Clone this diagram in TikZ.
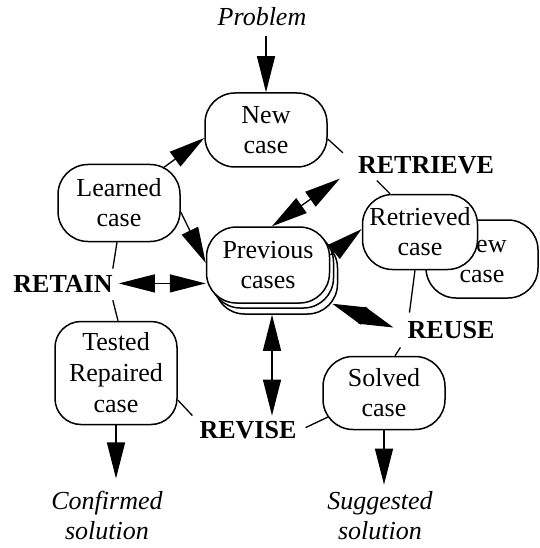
\documentclass[tikz,border=0pt]{standalone}
\usepackage{fontspec}
\setmainfont{Liberation Serif}
\usetikzlibrary{arrows.meta,calc}
\begin{document}
\begin{tikzpicture}[x=1pt,y=-1pt,
  every node/.style={font=\fontsize{26}{30}\selectfont},
  casebox/.style={draw, line width=1.5pt, rounded corners=30pt, fill=white,
    align=center, inner sep=1pt, minimum width=122pt, minimum height=75pt},
  phase/.style={font=\fontsize{26}{30}\selectfont\bfseries, inner sep=1pt, anchor=base},
  outcome/.style={font=\fontsize{26}{30}\selectfont\itshape, align=center, inner sep=2pt},
  link/.style={line width=1.3pt},
  bighead/.tip={Triangle[length=36pt,width=18pt]},
  shorthead/.tip={Triangle[length=34pt,width=18pt]},
  flow/.style={line width=1.3pt, -bighead},
  twoway/.style={line width=1.3pt, bighead-bighead},
  twowayshort/.style={line width=1.3pt, shorthead-shorthead},
]
\useasboundingbox (0,0) rectangle (539,548);

% cases
\node[outcome, anchor=base, inner sep=1pt] (problem) at (262,26) {Problem};
\node[casebox, minimum height=74pt] (newcase) at (266,130) {New\\case};
\node[casebox, minimum height=77pt] (learned) at (119,203) {Learned\\case};
\node[casebox, minimum width=123pt, minimum height=76pt] (prevback) at (276,276) {};
\node[casebox, minimum width=123pt, minimum height=76pt] (prevmid) at (272,270) {};
\node[casebox, minimum width=123pt, minimum height=76pt] (previous) at (268,265) {Previous\\cases};
\node[casebox, minimum width=112pt, minimum height=78pt] (newcopy) at (482,259) {New\\case};
\node[casebox, minimum width=115pt] (retrieved) at (420,232) {Retrieved\\case};
\node[casebox, minimum height=73pt] (solved) at (384,393) {Solved\\case};
\node[casebox, minimum height=103pt, rounded corners=26pt,
      font=\fontsize{26}{31}\selectfont] (tested) at (116,373) {Tested\\Repaired\\case};

% phases of the cycle
\node[phase] (retrieve) at (426,173) {RETRIEVE};
\node[phase] (retain) at (63,292) {RETAIN};
\node[phase] (reuse) at (451,338) {REUSE};
\node[phase] (revise) at (248,438) {REVISE};

% outputs
\node[outcome] (confirmed) at (107,515) {Confirmed\\solution};
\node[outcome] (suggested) at (380,516) {Suggested\\solution};

% arrows
\draw[flow, shorten <=9pt] (problem.south -| newcase.north) -- (newcase.north);
\draw[flow] ($(learned)+(44,-35)$) -- ([yshift=-8pt]newcase.west);
\draw[flow] ([yshift=-9pt]learned.east) -- ([yshift=2pt]previous.west);
\draw[twoway] ([xshift=5pt]retain.east) -- (retain.east -| previous.west);
\draw[twoway] ([xshift=4pt]previous.north) -- ([xshift=-17pt,yshift=-4pt]retrieve.south west);
\draw[flow] ([yshift=10pt]previous.east) -- ([yshift=3pt]retrieved.west);
\draw[twowayshort] ([xshift=2pt]previous.south east) -- ([xshift=-13pt,yshift=2pt]reuse.west);
\draw[twoway, shorten >=4pt] ([xshift=-4pt]prevback.south) -- ([xshift=-4pt]prevback.south |- revise.north);
\draw[flow, shorten >=10pt] (tested.south) -- (tested.south |- confirmed.north);
\draw[flow, shorten >=5pt] (solved.south) -- (solved.south |- suggested.north);

% plain links between cases and phases
\draw[link] ([yshift=-9pt]newcase.east) -- ([xshift=-14pt,yshift=2pt]retrieve.north west);
\draw[link] ([xshift=20pt,yshift=-6pt]retrieve.south west) -- ([xshift=-30pt]retrieved.north);
\draw[link] ([xshift=-5pt]retrieved.south) -- ([xshift=3pt,yshift=7pt]reuse.north west);
\draw[link] ([xshift=-6pt,yshift=-8pt]reuse.south west) -- ([xshift=11pt]solved.north);
\draw[link] ($(solved)+(-56,24)$) -- ([xshift=8pt,yshift=2pt]revise.east);
\draw[link] ([yshift=-27pt]tested.east) -- ([xshift=-6pt,yshift=4pt]revise.north west);
\draw[link] ([xshift=-2pt]learned.south) -- ([xshift=-1pt,yshift=5pt]retain.north east);
\draw[link] ([xshift=-1pt,yshift=-7pt]retain.south east) -- ([xshift=2pt]tested.north);
\end{tikzpicture}
\end{document}
